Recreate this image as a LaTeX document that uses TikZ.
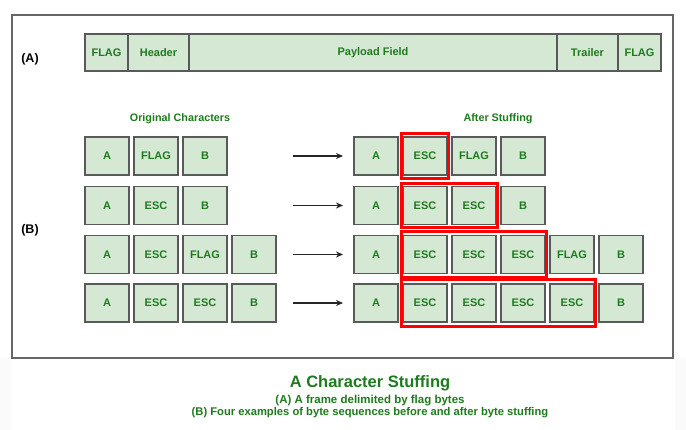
\documentclass[tikz,border=0pt]{standalone}
\usepackage{fontspec}
\setmainfont{Liberation Sans}
\usetikzlibrary{fit,arrows.meta}
\definecolor{cellgreen}{HTML}{D5E8D4}
\definecolor{bordergray}{HTML}{595959}
\definecolor{txtgreen}{HTML}{1E7B1E}
\definecolor{framegray}{HTML}{666666}
\definecolor{redline}{HTML}{FF0000}
\definecolor{faintgray}{HTML}{FAFAFA}
\begin{document}
\begin{tikzpicture}[x=1pt,y=-1pt,
  cell/.style={draw=bordergray, fill=cellgreen, line width=1.5pt,
    minimum width=44pt, minimum height=38pt, inner sep=0pt,
    font=\bfseries\fontsize{11}{13}\selectfont, text=txtgreen},
  fcell/.style={draw=bordergray, fill=cellgreen, line width=1.5pt,
    minimum height=37pt, inner sep=0pt,
    font=\bfseries\fontsize{11}{13}\selectfont, text=txtgreen},
  redbox/.style={draw=redline, line width=3pt, inner xsep=0.5pt, inner ysep=2.5pt},
  lbl/.style={font=\bfseries\fontsize{12.5}{14}\selectfont, text=black},
  head/.style={font=\bfseries\fontsize{10.8}{12}\selectfont, text=txtgreen},
  arr/.style={-{Stealth[length=7pt,width=6pt]}, line width=1.3pt, draw=black!85}]
\useasboundingbox (0,0) rectangle (686,430);
\fill[white] (0,0) rectangle (686,430);
\fill[faintgray] (0,358) rectangle (11,430);
\fill[faintgray] (675,358) rectangle (686,430);
% outer frame
\draw[framegray, line width=1.5pt] (12,15) rectangle (673,358);
\node[lbl] (labA) at (30,59) {(A)};
\node[lbl] (labB) at (30,230) {(B)};
% frame row
\node[fcell, minimum width=43pt] (fA1) at (106.5,52.5) {FLAG};
\node[fcell, minimum width=61pt] (fA2) at (158.5,52.5) {Header};
\node[fcell, minimum width=368pt] (fA3) at (373,52.5) {Payload Field};
\node[fcell, minimum width=61pt] (fA4) at (587.5,52.5) {Trailer};
\node[fcell, minimum width=43pt] (fA5) at (639.5,52.5) {FLAG};
% headings
\node[head] (hOrig) at (180,119) {Original Characters};
\node[head] (hAfter) at (498,119) {After Stuffing};
% left rows
\node[cell] (l1a) at (107,156) {A};
\node[cell] (l1b) at (156,156) {FLAG};
\node[cell] (l1c) at (205,156) {B};
\node[cell] (l2a) at (107,205.5) {A};
\node[cell] (l2b) at (156,205.5) {ESC};
\node[cell] (l2c) at (205,205.5) {B};
\node[cell] (l3a) at (107,254.5) {A};
\node[cell] (l3b) at (156,254.5) {ESC};
\node[cell] (l3c) at (205,254.5) {FLAG};
\node[cell] (l3d) at (254,254.5) {B};
\node[cell] (l4a) at (107,303) {A};
\node[cell] (l4b) at (156,303) {ESC};
\node[cell] (l4c) at (205,303) {ESC};
\node[cell] (l4d) at (254,303) {B};
% right rows
\node[cell] (r1a) at (376,156) {A};
\node[cell] (r1b) at (425,156) {ESC};
\node[cell] (r1c) at (474,156) {FLAG};
\node[cell] (r1d) at (523,156) {B};
\node[cell] (r2a) at (376,205.5) {A};
\node[cell] (r2b) at (425,205.5) {ESC};
\node[cell] (r2c) at (474,205.5) {ESC};
\node[cell] (r2d) at (523,205.5) {B};
\node[cell] (r3a) at (376,254.5) {A};
\node[cell] (r3b) at (425,254.5) {ESC};
\node[cell] (r3c) at (474,254.5) {ESC};
\node[cell] (r3d) at (523,254.5) {ESC};
\node[cell] (r3e) at (572,254.5) {FLAG};
\node[cell] (r3f) at (621,254.5) {B};
\node[cell] (r4a) at (376,303) {A};
\node[cell] (r4b) at (425,303) {ESC};
\node[cell] (r4c) at (474,303) {ESC};
\node[cell] (r4d) at (523,303) {ESC};
\node[cell] (r4e) at (572,303) {ESC};
\node[cell] (r4f) at (621,303) {B};
% red highlight boxes
\node[redbox, fit=(r1b)] (red1) {};
\node[redbox, fit=(r2b)(r2c)] (red2) {};
\node[redbox, inner ysep=3.5pt, fit=(r3b)(r3d)] (red3) {};
\node[redbox, inner ysep=3.5pt, fit=(r4b)(r4e)] (red4) {};
% arrows
\coordinate (a1s) at (293,156); \coordinate (a1e) at (343,156);
\coordinate (a2s) at (293,205.5); \coordinate (a2e) at (343,205.5);
\coordinate (a3s) at (293,254.5); \coordinate (a3e) at (343,254.5);
\coordinate (a4s) at (293,303); \coordinate (a4e) at (343,303);
\draw[arr] (a1s) -- (a1e);
\draw[arr] (a2s) -- (a2e);
\draw[arr] (a3s) -- (a3e);
\draw[arr] (a4s) -- (a4e);
% caption
\node[font=\bfseries\fontsize{16.5}{18}\selectfont, text=txtgreen] (cap) at (370,383) {A Character Stuffing};
\node[font=\bfseries\fontsize{11.5}{13}\selectfont, text=txtgreen] (capA) at (370,401) {(A) A frame delimited by flag bytes};
\node[font=\bfseries\fontsize{11.2}{13}\selectfont, text=txtgreen] (capB) at (370,413) {(B) Four examples of byte sequences before and after byte stuffing};
\end{tikzpicture}
\end{document}
